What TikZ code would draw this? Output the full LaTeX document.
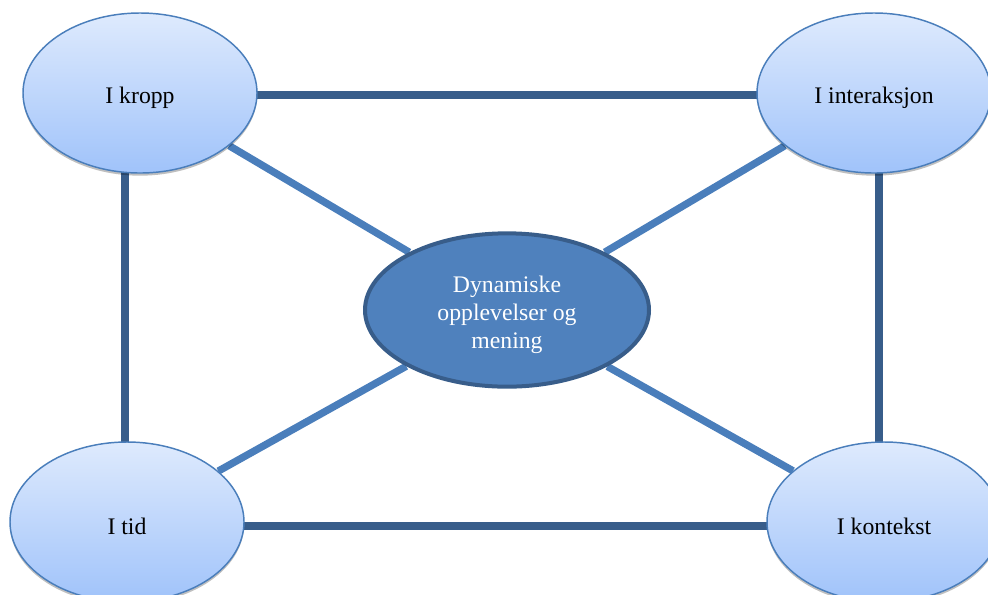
\documentclass[tikz,border=0pt]{standalone}
\usepackage{fontspec}
\setmainfont{Liberation Serif}
\usetikzlibrary{shapes.geometric,shadows,backgrounds}
\definecolor{topfill}{RGB}{222,234,253}
\definecolor{botfill}{RGB}{160,195,250}
\definecolor{rimblue}{RGB}{74,126,187}
\definecolor{darkline}{RGB}{56,93,138}
\definecolor{lightline}{RGB}{74,126,187}
\definecolor{centerfill}{RGB}{79,129,189}
\newcommand{\lowerstrut}{\rule{0pt}{19.6pt}}
\begin{document}
\begin{tikzpicture}[x=0.75pt,y=-0.75pt,
  outer/.style={ellipse,draw=rimblue,line width=1.1pt,top color=topfill,bottom color=botfill,
    minimum width=175.5pt,minimum height=120pt,inner sep=0pt,align=center,
    font=\fontsize{17.8pt}{21pt}\selectfont,
    drop shadow={shadow xshift=0pt,shadow yshift=-2pt,opacity=0.25,fill=black}},
  hub/.style={ellipse,draw=darkline,line width=3pt,fill=centerfill,text=white,
    minimum width=213pt,minimum height=115pt,inner sep=0pt,align=center,
    font=\fontsize{17.8pt}{21pt}\selectfont},
  frame/.style={draw=darkline,line width=5.5pt},
  spoke/.style={draw=lightline,line width=5.5pt}]
\useasboundingbox (0,0) rectangle (988,594);
\node[outer] (kropp) at (140,93) {\lowerstrut I kropp};
\node[outer] (inter) at (874,93) {\lowerstrut I interaksjon};
\node[outer] (tid) at (127,522) {\lowerstrut I tid};
\node[outer] (kontekst) at (884,522) {\lowerstrut I kontekst};
\node[hub] (hub) at (507,310) {\lowerstrut Dynamiske\\opplevelser og\\mening};
\begin{scope}[on background layer]
\draw[frame] ([yshift=-1.5pt]kropp.center) -- ([yshift=-1.5pt]inter.center);
\draw[frame] ([yshift=-3pt]tid.center) -- ([yshift=-3pt]kontekst.center);
\draw[frame] ([xshift=-1.5pt]tid.center |- kropp.center) -- ([xshift=-1.5pt]tid.center);
\draw[frame] ([xshift=3.75pt]inter.center) -- ([xshift=-3.75pt]kontekst.center);
\draw[spoke] (kropp) -- (hub);
\draw[spoke] (inter) -- (hub);
\draw[spoke] (tid) -- (hub);
\draw[spoke] (kontekst) -- (hub);
\end{scope}
\end{tikzpicture}
\end{document}
